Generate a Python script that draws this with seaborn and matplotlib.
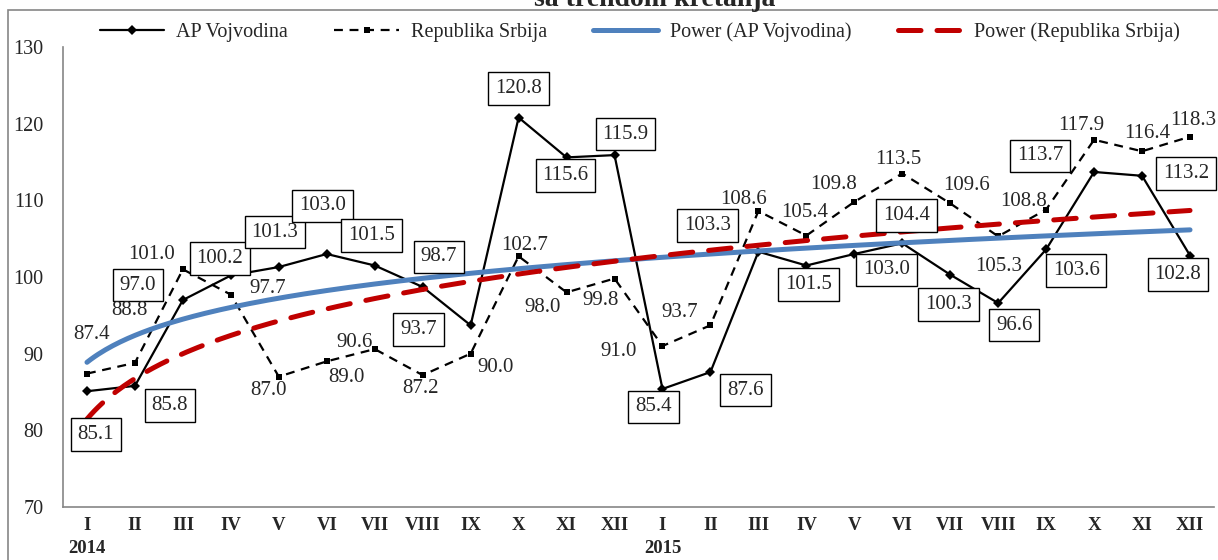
import numpy as np
import pandas as pd
import matplotlib
matplotlib.use("Agg")
import matplotlib.pyplot as plt
import matplotlib.patches as patches
import seaborn as sns

months = ['I', 'II', 'III', 'IV', 'V', 'VI', 'VII', 'VIII', 'IX', 'X', 'XI', 'XII']
years = ['2014', '2015']
vojvodina = [85.1, 85.8, 97.0, 100.2, 101.3, 103.0, 101.5, 98.7, 93.7, 120.8, 115.6, 115.9,
             85.4, 87.6, 103.3, 101.5, 103.0, 104.4, 100.3, 96.6, 103.6, 113.7, 113.2, 102.8]
srbija = [87.4, 88.8, 101.0, 97.7, 87.0, 89.0, 90.6, 87.2, 90.0, 102.7, 98.0, 99.8,
          91.0, 93.7, 108.6, 105.4, 109.8, 113.5, 109.6, 105.3, 108.8, 117.9, 116.4, 118.3]

# label offsets in pixels (dx right, dy down)
voj_off = [(9, 43), (35, 20), (-45, -15), (-11, -17), (-4, -35), (-4, -48), (-3, -30), (16, -30),
           (-52, 4), (0, -29), (-1, 18), (11, -21),
           (-9, 18), (35, 18), (-51, -26), (2, 19), (32, 16), (4, -28), (-2, 30), (16, 22),
           (30, 21), (-54, -16), (44, -2), (-12, 19)]
srb_off = [(5, -39), (-6, -52), (-31, -15), (37, -6), (-10, 14), (20, 16), (-20, -7), (-2, 13),
           (25, 14), (6, -11), (-24, 15), (-14, 22),
           (-44, 6), (-31, -13), (-15, -12), (-2, -23), (-21, -17), (-4, -14), (16, -18), (0, 30),
           (-23, -8), (-13, -14), (5, -18), (3, -16)]

labels = []
for y in years:
    for i, m in enumerate(months):
        labels.append(m + ('\n' + y if i == 0 else ''))

df = pd.DataFrame({'pos': np.arange(len(vojvodina)), 'voj': vojvodina, 'srb': srbija})


# excel style power trendline: ln y = ln a + b ln x
def power_fit(vals):
    x = np.arange(1, len(vals) + 1)
    b, lna = np.polyfit(np.log(x), np.log(vals), 1)
    xs = np.linspace(1, len(vals), 300)
    return xs - 1, np.exp(lna) * xs ** b


tx, ty_voj = power_fit(vojvodina)
_, ty_srb = power_fit(srbija)
trend = pd.DataFrame({'pos': tx, 'voj': ty_voj, 'srb': ty_srb})

sns.set_style("white")
plt.rcParams['font.family'] = ['Liberation Serif', 'DejaVu Serif']

fig = plt.figure(figsize=(12.18, 5.6), dpi=100)
ax = fig.add_axes([63 / 1218, 1 - 507 / 560, 1151 / 1218, 460 / 560])

sns.lineplot(data=df, x='pos', y='voj', ax=ax, color='black', lw=1.6, marker='D',
             markersize=5, markeredgewidth=0, label='AP Vojvodina')
sns.lineplot(data=df, x='pos', y='srb', ax=ax, color='black', lw=1.6, marker='s',
             markersize=5, markeredgewidth=0, label='Republika Srbija')
ax.lines[-1].set_dashes((4, 3))
sns.lineplot(data=trend, x='pos', y='voj', ax=ax, color='#4F81BD', lw=3.6,
             label='Power (AP Vojvodina)')
sns.lineplot(data=trend, x='pos', y='srb', ax=ax, color='#C00000', lw=3.6,
             label='Power (Republika Srbija)')
ax.lines[-1].set_dashes((4.5, 3.2))
ax.lines[-1].set_dash_capstyle('round')

for i, v in enumerate(vojvodina):
    dx, dy = voj_off[i]
    ax.annotate(f'{v:.1f}', xy=(i, v), xytext=(dx, -dy), textcoords='offset pixels',
                ha='center', va='center', fontsize=15, zorder=6,
                bbox=dict(boxstyle='square,pad=0.33', fc='white', ec='black', lw=1))
for i, v in enumerate(srbija):
    dx, dy = srb_off[i]
    ax.annotate(f'{v:.1f}', xy=(i, v), xytext=(dx, -dy), textcoords='offset pixels',
                ha='center', va='center', fontsize=15, zorder=6, annotation_clip=False)

ax.set_xlim(-0.5, len(vojvodina) - 0.5)
ax.set_ylim(70, 130)
ax.set_yticks(range(70, 131, 10))
ax.set_xticks(np.arange(-0.5, len(vojvodina), 1))
ax.set_xticklabels([])
ax.set_xticks(np.arange(len(vojvodina)), minor=True)
ax.set_xticklabels(labels, minor=True, fontweight='bold', fontsize=13.5, linespacing=1.45)
ax.tick_params(axis='x', which='major', length=5, color='#868686', width=1, direction='out')
ax.tick_params(axis='x', which='minor', length=0, pad=7)
ax.tick_params(axis='y', length=5, color='#868686', width=1, direction='out', labelsize=14.5, pad=9)
ax.set_xlabel('')
ax.set_ylabel('')
for s in ['top', 'right']:
    ax.spines[s].set_visible(False)
for s in ['left', 'bottom']:
    ax.spines[s].set_color('#868686')
    ax.spines[s].set_linewidth(1.2)
ax.legend_.remove()

h, l = ax.get_legend_handles_labels()
fig.legend(h, l, loc='center', bbox_to_anchor=(640 / 1218, 1 - 32 / 560), ncol=4,
           frameon=False, fontsize=14.5, handlelength=3.2, columnspacing=2.3, handletextpad=0.6)

fig.text(655 / 1218, 1 - 6 / 560, 'sa trendom kretanja', ha='center', va='baseline',
         fontsize=20, fontweight='bold')
fig.patches.append(patches.Rectangle((8 / 1218, -0.1), 1.2, 1.1 - 10 / 560, fill=False,
                                     ec='#868686', lw=1.2, transform=fig.transFigure))

fig.savefig('out.png', dpi=100)
